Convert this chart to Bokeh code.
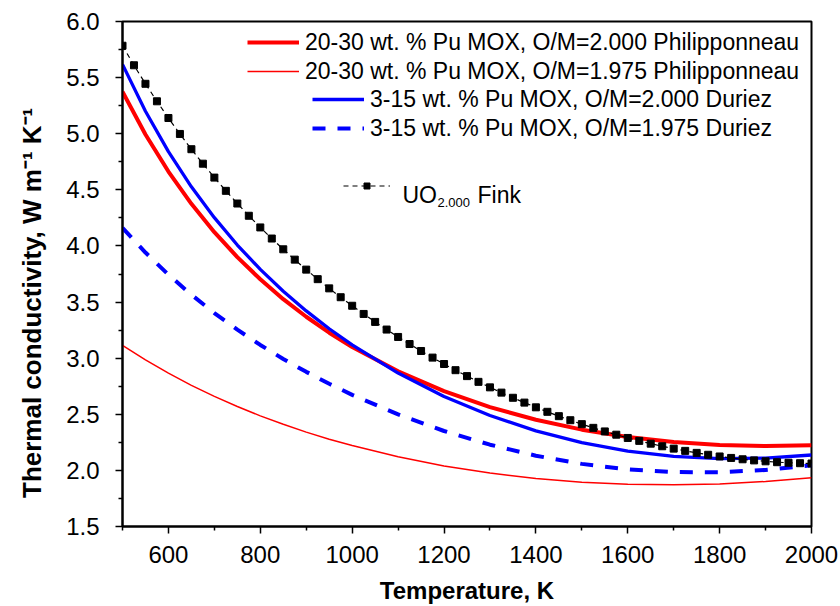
from bokeh.plotting import figure
from bokeh.models import (Range1d, FixedTicker, NumeralTickFormatter, Legend,
                          LegendItem, Label, ColumnDataSource)
from bokeh.embed import file_html
from bokeh.resources import INLINE

# ---------------- data ----------------
temps = [500, 550, 600, 650, 700, 750, 800, 850, 900, 950, 1000,
         1100, 1200, 1300, 1400, 1500, 1600, 1700, 1800, 1900, 2000]

philip_2000 = [5.375, 4.993, 4.663, 4.375, 4.123, 3.900, 3.703, 3.526, 3.369, 3.227, 3.100,
               2.883, 2.707, 2.564, 2.451, 2.363, 2.297, 2.252, 2.226, 2.217, 2.225]
philip_1975 = [3.115, 2.985, 2.866, 2.758, 2.659, 2.569, 2.486, 2.411, 2.341, 2.278, 2.221,
               2.121, 2.040, 1.976, 1.928, 1.895, 1.876, 1.871, 1.879, 1.901, 1.935]
duriez_2000 = [5.618, 5.200, 4.840, 4.527, 4.252, 4.008, 3.791, 3.596, 3.421, 3.262, 3.118,
               2.867, 2.659, 2.489, 2.352, 2.247, 2.171, 2.124, 2.104, 2.109, 2.137]
duriez_1975 = [4.161, 3.941, 3.744, 3.565, 3.402, 3.254, 3.118, 2.993, 2.878, 2.772, 2.673,
               2.499, 2.351, 2.229, 2.131, 2.058, 2.009, 1.985, 1.983, 2.004, 2.046]

fink_temps = [500, 525, 550, 575, 600, 625, 650, 675, 700, 725, 750, 775, 800, 825, 850,
              875, 900, 925, 950, 975, 1000, 1025, 1050, 1075, 1100, 1125, 1150, 1175,
              1200, 1225, 1250, 1275, 1300, 1325, 1350, 1375, 1400, 1425, 1450, 1475,
              1500, 1525, 1550, 1575, 1600, 1625, 1650, 1675, 1700, 1725, 1750, 1775,
              1800, 1825, 1850, 1875, 1900, 1925, 1950, 1975, 2000]
fink_uo2 = [5.784, 5.610, 5.445, 5.289, 5.140, 4.998, 4.862, 4.733, 4.609, 4.491, 4.378,
            4.269, 4.165, 4.066, 3.970, 3.878, 3.789, 3.704, 3.622, 3.543, 3.467, 3.394,
            3.323, 3.255, 3.189, 3.126, 3.064, 3.005, 2.948, 2.893, 2.840, 2.789, 2.740,
            2.693, 2.647, 2.604, 2.562, 2.522, 2.483, 2.447, 2.412, 2.379, 2.347, 2.318,
            2.289, 2.263, 2.238, 2.215, 2.194, 2.174, 2.156, 2.139, 2.124, 2.111, 2.099,
            2.089, 2.081, 2.073, 2.068, 2.064, 2.061]

x_major = [600, 800, 1000, 1200, 1400, 1600, 1800, 2000]
x_minor = [500, 700, 900, 1100, 1300, 1500, 1700, 1900]
y_major = [1.5, 2.0, 2.5, 3.0, 3.5, 4.0, 4.5, 5.0, 5.5, 6.0]
y_minor = [1.75, 2.25, 2.75, 3.25, 3.75, 4.25, 4.75, 5.25, 5.75]

labels = ["20-30 wt. % Pu MOX, O/M=2.000 Philipponneau",
          "20-30 wt. % Pu MOX, O/M=1.975 Philipponneau",
          "3-15 wt. % Pu MOX, O/M=2.000 Duriez",
          "3-15 wt. % Pu MOX, O/M=1.975 Duriez"]

x_title = "Temperature, K"
y_title = "Thermal conductivity, W m\u207b\u00b9 K\u207b\u00b9"

FONT = "Liberation Sans"

# ---------------- figure ----------------
p = figure(width=840, height=606, output_backend="svg", toolbar_location=None,
           x_range=Range1d(500, 2000), y_range=Range1d(1.5, 6.0),
           min_border_left=122, min_border_right=29, min_border_top=21,
           min_border_bottom=80)
p.xgrid.visible = False
p.ygrid.visible = False
p.outline_line_color = "black"
p.outline_line_width = 2
p.background_fill_color = "white"
p.border_fill_color = "white"

for ax in (p.xaxis[0], p.yaxis[0]):
    ax.axis_line_color = "black"
    ax.axis_line_width = 2
    ax.major_tick_line_color = "black"
    ax.major_tick_line_width = 1.5
    ax.major_tick_in = 0
    ax.major_tick_out = 7
    ax.minor_tick_line_color = "black"
    ax.minor_tick_line_width = 1.5
    ax.minor_tick_in = 0
    ax.minor_tick_out = 4
    ax.major_label_text_font = FONT
    ax.major_label_text_font_size = "24px"
    ax.major_label_text_color = "black"
    ax.axis_label_text_font = FONT
    ax.axis_label_text_font_style = "bold"
    ax.axis_label_text_color = "black"

xa = p.xaxis[0]
xa.ticker = FixedTicker(ticks=x_major, minor_ticks=x_minor)
xa.formatter = NumeralTickFormatter(format="0")
xa.major_label_standoff = 12
xa.axis_label = x_title
xa.axis_label_text_font_size = "24px"
xa.axis_label_standoff = 11

ya = p.yaxis[0]
ya.ticker = FixedTicker(ticks=y_major, minor_ticks=y_minor)
ya.formatter = NumeralTickFormatter(format="0.0")
ya.major_label_standoff = 16
# trailing no-break spaces move the centred title lower, as in the original
ya.axis_label = y_title + "\u00a0" * 8
ya.axis_label_text_font_size = "26px"
ya.axis_label_standoff = 16

# ---------------- curves ----------------
src = ColumnDataSource(dict(t=temps, p2=philip_2000, p1=philip_1975,
                            d2=duriez_2000, d1=duriez_1975))
r_p2 = p.line("t", "p2", source=src, line_color="#FF0000", line_width=4)
r_p1 = p.line("t", "p1", source=src, line_color="#FF0000", line_width=1.5)
r_d2 = p.line("t", "d2", source=src, line_color="#0000FF", line_width=3.3)
r_d1 = p.line("t", "d1", source=src, line_color="#0000FF", line_width=4,
              line_dash="13 12")

fsrc = ColumnDataSource(dict(t=fink_temps, k=fink_uo2))
r_fl = p.line("t", "k", source=fsrc, line_color="black", line_width=1.2,
              line_dash="5 4")
r_fm = p.scatter("t", "k", source=fsrc, marker="square", size=7,
                 fill_color="black", line_color="black")

# ---------------- legends ----------------
def make_legend(items, loc, gw, gh, fs):
    lg = Legend(items=items, location=loc, orientation="vertical",
                padding=0, margin=0, spacing=1, glyph_width=gw, glyph_height=gh,
                label_height=gh, label_standoff=6,
                label_text_font=FONT, label_text_font_size=fs,
                label_text_color="black",
                border_line_alpha=0, background_fill_alpha=0)
    p.add_layout(lg)
    return lg

make_legend([LegendItem(label=labels[0], renderers=[r_p2]),
             LegendItem(label=labels[1], renderers=[r_p1])], (125, 441), 52, 28, "23px")
make_legend([LegendItem(label=labels[2], renderers=[r_d2]),
             LegendItem(label=labels[3], renderers=[r_d1])], (190, 384), 52, 28, "23px")
make_legend([LegendItem(label=" ", renderers=[r_fl, r_fm])], (221, 333), 47, 15, "8px")

def lab(text, x, y, size):
    p.add_layout(Label(x=x, y=y, x_units="screen", y_units="screen", text=text,
                       text_font=FONT, text_font_size=size, text_color="black",
                       text_align="left", text_baseline="alphabetic"))

# UO2.000 Fink legend text
lab("UO", 280, 331.7, "23px")
lab("2.000", 315, 324.3, "13px")
lab("Fink", 355, 331.7, "23px")

open("out.html", "w").write(file_html(p, INLINE))
